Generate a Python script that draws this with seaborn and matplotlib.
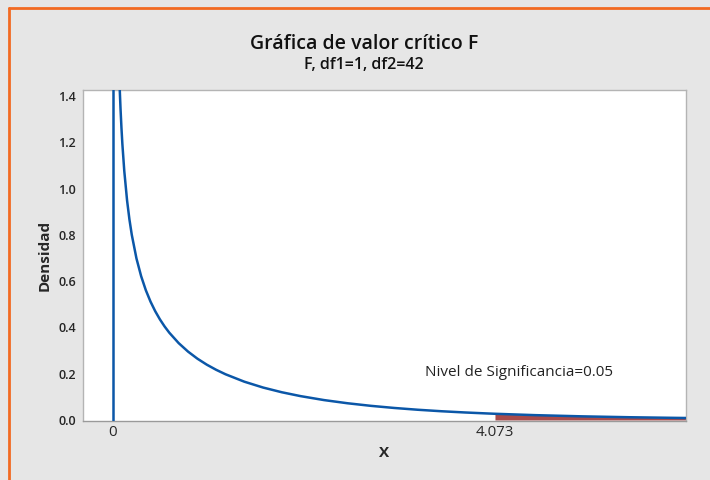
import matplotlib
matplotlib.use("Agg")
import matplotlib.pyplot as plt
from matplotlib.lines import Line2D
import numpy as np
import pandas as pd
import seaborn as sns

# F(1, 42) density, tabulated
x_vals = [0.07, 0.08, 0.09, 0.10, 0.12, 0.15, 0.175, 0.20, 0.25, 0.30, 0.35,
          0.40, 0.45, 0.50, 0.55, 0.60, 0.70, 0.80, 0.90, 1.00, 1.10, 1.20,
          1.40, 1.60, 1.80, 2.00, 2.25, 2.50, 2.75, 3.00, 3.25, 3.50, 3.75,
          4.00, 4.073, 4.50, 5.00, 5.50, 6.00, 6.20]
density = [1.4463, 1.3460, 1.2625, 1.1917, 1.0768, 0.9485, 0.8670, 0.8007,
           0.6982, 0.6214, 0.5608, 0.5115, 0.4702, 0.4349, 0.4043, 0.3774,
           0.3323, 0.2956, 0.2650, 0.2391, 0.2169, 0.1976, 0.1656, 0.1403,
           0.1199, 0.1032, 0.0861, 0.0724, 0.0612, 0.0520, 0.0443, 0.0379,
           0.0326, 0.0281, 0.0269, 0.0210, 0.0158, 0.0120, 0.0092, 0.0083]

critical_value = 4.073
alpha = 0.05
df1, df2 = 1, 42
y_ticks = [0.0, 0.2, 0.4, 0.6, 0.8, 1.0, 1.2, 1.4]
x_ticks = [0, critical_value]
x_tick_labels = ["0", "4.073"]

df = pd.DataFrame({"X": x_vals, "Densidad": density})
tail = df[df["X"] >= critical_value]

sns.set_theme(style="white")
plt.rcParams["font.family"] = ["Open Sans", "DejaVu Sans"]

bg = "#e6e6e6"
blue = "#0b57a8"
red = "#a94b4b"

fig = plt.figure(figsize=(7.1, 4.8), dpi=100, facecolor=bg)
ax = fig.add_axes([83 / 710, 1 - 421 / 480, (686 - 83) / 710, (421 - 90) / 480])
ax.set_facecolor("white")

# rejection region
ax.fill_between(tail["X"], 0, tail["Densidad"], color=red, linewidth=0, zorder=2)

# density curve and the support boundary at zero
sns.lineplot(data=df, x="X", y="Densidad", ax=ax, color=blue, linewidth=1.8,
             zorder=3, sort=False)
ax.axvline(0, color=blue, linewidth=1.8, zorder=3)

ax.set_xlim(-0.32, 6.11)
ax.set_ylim(-0.0043, 1.426)
ax.set_yticks(y_ticks)
ax.set_yticklabels([f"{v:.1f}" for v in y_ticks], fontsize=9, fontweight="semibold")
ax.set_xticks(x_ticks)
ax.set_xticklabels(x_tick_labels, fontsize=10.8)
ax.tick_params(axis="y", length=3, width=0.8, color="#9a9a9a", pad=2, direction="out")
ax.tick_params(axis="x", length=0, pad=3)

ax.set_xlabel("X", fontsize=11, fontweight="bold", labelpad=4)
ax.set_ylabel("Densidad", fontsize=11, fontweight="bold", labelpad=5)

for side, sp in ax.spines.items():
    sp.set_visible(True)
    sp.set_color("#b4b4b4")
    sp.set_linewidth(1.0)
ax.spines["bottom"].set_color("#9a9a9a")

ax.text(3.33, 0.207, f"Nivel de Significancia={alpha}", fontsize=11,
        ha="left", va="center", color="#222222")

fig.text(364 / 710, 1 - 44 / 480, "Gráfica de valor crítico F", fontsize=14,
         fontweight="semibold", ha="center", va="center", color="#111111")
fig.text(364 / 710, 1 - 65 / 480, f"F, df1={df1}, df2={df2}", fontsize=11.5,
         fontweight="semibold", ha="center", va="center", color="#111111")

# frame lines on the left and top edges
orange = "#f26a22"
fig.add_artist(Line2D([9 / 710, 9 / 710], [0, 1 - 8 / 480], color=orange,
                      linewidth=2, transform=fig.transFigure))
fig.add_artist(Line2D([9 / 710, 1], [1 - 8 / 480, 1 - 8 / 480], color=orange,
                      linewidth=2, transform=fig.transFigure))

fig.savefig("out.png", dpi=100, facecolor=bg)
